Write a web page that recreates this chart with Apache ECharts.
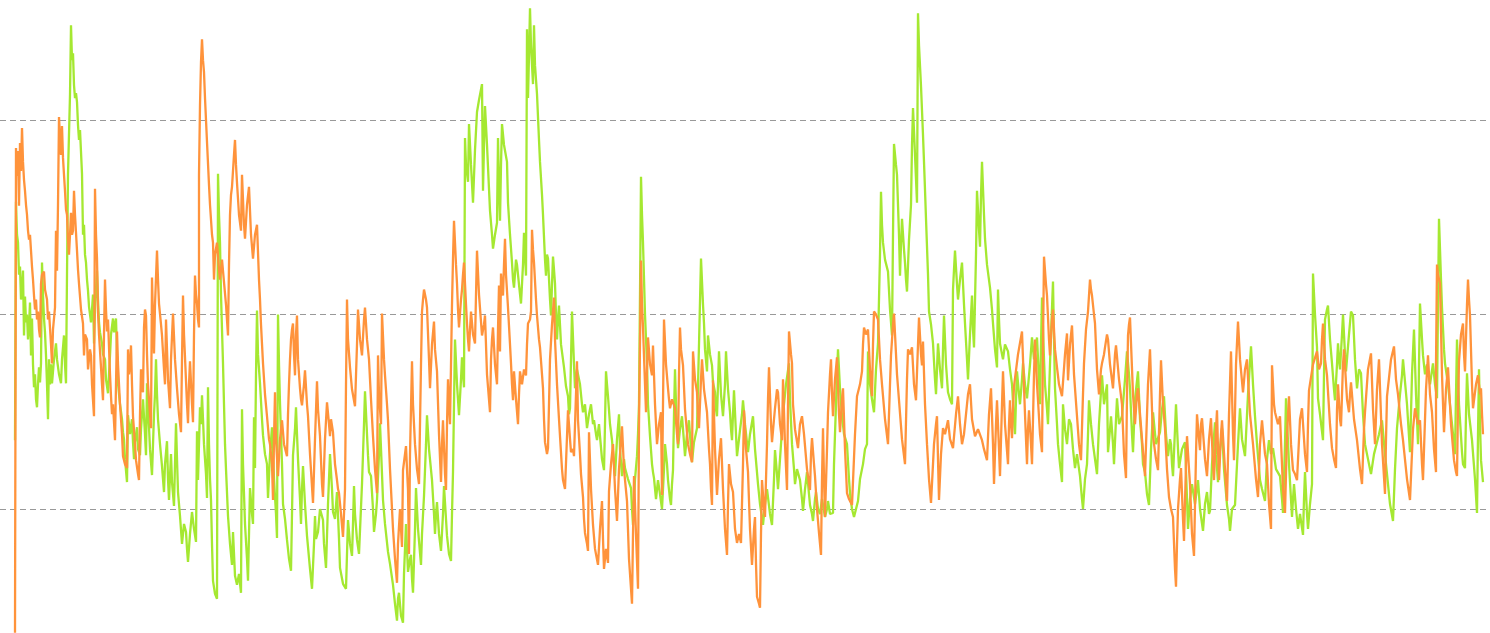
<!DOCTYPE html>
<html><head><meta charset="utf-8">
<style>html,body{margin:0;padding:0;background:#fff}#c{width:1490px;height:633px}</style>
<script src="https://cdn.jsdelivr.net/npm/echarts@6/dist/echarts.min.js"></script></head>
<body><div id="c"></div>
<script>
const greenPoints=[[15,264],[16,503],[17,470],[18,462],[19,430],[20,438],[21,405],[22,414],[23,434],[24,369],[25,408],[26,382],[27,390],[28,365],[29,378],[30,402],[31,349],[32,386],[33,340],[34,317],[35,330],[36,305],[37,297],[38,320],[39,337],[40,322],[41,341],[42,442],[43,410],[44,386],[45,372],[46,349],[47,320],[48,285],[49,345],[50,320],[51,340],[52,321],[54,345],[56,361],[57,345],[59,330],[61,321],[62,345],[64,369],[65,340],[66,321],[67,430],[68,531],[69,571],[70,610],[71,680],[72,645],[73,652],[74,620],[75,607],[76,612],[77,603],[78,580],[79,565],[80,575],[82,531],[83,470],[84,480],[85,450],[86,442],[87,425],[88,414],[89,398],[91,382],[92,395],[93,410],[94,361],[95,395],[96,415],[97,434],[98,405],[99,382],[100,372],[102,361],[103,350],[105,345],[106,325],[108,311],[109,330],[110,349],[111,370],[113,386],[114,372],[116,386],[117,350],[118,321],[120,300],[122,285],[123,272],[124,265],[125,245],[127,222],[128,289],[130,270],[132,285],[133,262],[134,245],[135,262],[137,277],[138,255],[140,249],[141,275],[143,305],[145,270],[146,249],[147,321],[148,295],[149,277],[150,255],[152,229],[154,290],[155,310],[156,345],[157,310],[158,285],[160,260],[162,238],[163,225],[164,212],[165,240],[167,263],[168,225],[169,204],[170,228],[171,250],[172,222],[174,198],[175,240],[176,281],[177,245],[178,212],[180,188],[182,160],[184,180],[186,172],[187,155],[188,142],[190,170],[192,192],[194,175],[196,162],[197,273],[198,224],[199,260],[200,297],[201,280],[202,309],[203,285],[204,260],[206,230],[207,206],[208,317],[209,260],[210,225],[211,204],[212,160],[213,123],[215,110],[217,105],[218,531],[219,490],[220,462],[221,410],[222,375],[223,341],[224,300],[225,260],[226,235],[228,188],[230,160],[232,139],[233,172],[234,150],[235,128],[237,119],[239,130],[241,111],[242,295],[243,240],[244,210],[245,180],[247,145],[248,123],[249,170],[250,216],[252,190],[253,180],[254,287],[255,236],[256,330],[257,394],[258,350],[260,321],[262,285],[263,269],[265,250],[267,240],[268,206],[270,250],[272,277],[274,225],[276,190],[277,166],[278,390],[279,340],[280,301],[282,240],[283,200],[285,185],[287,164],[289,145],[291,133],[292,190],[293,249],[295,275],[296,297],[297,270],[298,245],[300,205],[301,180],[302,215],[303,238],[305,200],[307,168],[310,135],[312,115],[314,160],[315,188],[316,165],[318,172],[320,195],[323,184],[324,160],[326,136],[328,200],[330,250],[332,215],[333,192],[335,185],[337,212],[339,165],[340,136],[343,120],[346,115],[347,150],[348,184],[350,160],[352,148],[353,180],[354,218],[355,190],[357,164],[359,150],[360,148],[362,220],[364,280],[365,313],[367,270],[368,249],[369,232],[371,228],[373,195],[374,172],[376,190],[377,204],[379,250],[380,281],[382,230],[383,204],[385,180],[388,152],[390,140],[393,119],[395,100],[397,83],[398,105],[399,111],[401,88],[403,81],[404,130],[406,180],[407,155],[408,132],[410,145],[411,149],[412,125],[413,111],[415,175],[416,216],[418,175],[421,139],[422,170],[424,208],[426,260],[427,289],[429,255],[432,224],[434,190],[435,170],[436,190],[437,202],[439,170],[441,153],[443,190],[444,218],[446,185],[447,168],[449,150],[451,143],[452,190],[453,232],[454,300],[455,365],[457,320],[459,289],[461,325],[462,347],[463,330],[464,317],[465,567],[466,540],[468,523],[469,581],[471,540],[473,502],[475,555],[477,593],[479,605],[482,621],[483,514],[484,560],[485,599],[487,560],[490,494],[492,470],[493,456],[495,470],[497,482],[498,567],[499,520],[500,484],[501,540],[502,581],[504,560],[507,543],[508,502],[510,470],[512,442],[513,425],[514,417],[516,445],[517,440],[519,420],[521,401],[523,440],[524,472],[525,450],[526,429],[527,676],[528,607],[529,650],[530,697],[531,660],[533,621],[534,680],[535,640],[537,611],[539,565],[540,543],[542,510],[543,490],[545,445],[546,429],[547,450],[548,446],[550,405],[551,389],[552,420],[553,448],[554,435],[555,421],[556,390],[557,365],[558,385],[559,399],[561,360],[564,337],[566,318],[568,308],[569,290],[570,296],[571,345],[572,393],[574,340],[575,316],[577,335],[580,320],[582,300],[583,292],[585,300],[587,276],[589,290],[591,300],[593,280],[594,284],[596,270],[597,264],[599,280],[600,268],[602,245],[604,234],[605,280],[606,333],[607,320],[608,308],[610,280],[612,264],[614,240],[615,228],[617,265],[619,290],[620,255],[622,228],[624,245],[625,236],[628,225],[631,216],[632,195],[633,179],[635,225],[637,248],[638,270],[639,300],[640,410],[641,528],[642,490],[643,462],[645,390],[647,341],[648,300],[650,268],[652,240],[653,232],[654,226],[656,205],[658,224],[660,210],[662,195],[664,235],[665,260],[667,240],[668,224],[670,205],[671,199],[672,220],[673,234],[674,290],[675,335],[676,300],[678,256],[680,275],[682,288],[684,262],[685,248],[687,270],[689,284],[691,255],[692,242],[694,262],[697,276],[699,360],[701,446],[703,400],[704,381],[705,355],[707,333],[708,369],[710,350],[712,339],[713,322],[715,312],[716,295],[717,288],[718,320],[719,353],[721,310],[723,288],[725,320],[726,353],[728,315],[730,292],[731,275],[732,264],[733,290],[734,314],[736,270],[737,248],[739,265],[740,274],[742,290],[743,304],[745,280],[748,252],[750,270],[753,288],[755,255],[758,220],[760,200],[763,179],[765,200],[767,215],[770,190],[772,179],[774,225],[775,254],[777,230],[778,215],[781,260],[784,300],[786,320],[789,341],[790,305],[792,260],[794,235],[795,220],[797,235],[800,224],[802,205],[803,193],[805,215],[807,232],[809,210],[810,199],[812,190],[813,183],[815,205],[816,212],[818,195],[820,190],[822,205],[825,187],[827,195],[828,203],[830,190],[833,191],[834,240],[836,300],[837,330],[838,355],[840,315],[842,288],[844,270],[847,260],[849,225],[850,211],[852,195],[854,187],[856,195],[858,203],[860,225],[863,240],[865,255],[867,260],[868,353],[870,320],[872,305],[874,292],[876,335],[878,361],[880,450],[881,513],[882,480],[883,462],[885,445],[888,433],[890,395],[892,369],[893,470],[894,561],[896,540],[897,530],[899,470],[900,429],[901,460],[902,486],[904,455],[905,442],[906,425],[907,413],[909,465],[911,500],[912,560],[913,597],[915,550],[917,502],[918,692],[919,660],[921,619],[923,570],[924,543],[925,515],[926,486],[928,430],[929,393],[931,380],[933,361],[935,325],[936,310],[937,335],[938,361],[940,335],[942,316],[943,355],[944,389],[946,340],[948,312],[950,305],[952,300],[953,415],[954,435],[955,454],[957,420],[958,405],[960,425],[962,442],[964,400],[965,381],[967,345],[968,325],[970,370],[972,409],[973,375],[974,357],[976,450],[977,514],[979,475],[980,458],[981,510],[982,543],[984,490],[985,466],[987,440],[990,417],[992,395],[993,381],[995,355],[997,337],[998,415],[999,385],[1000,361],[1002,350],[1003,345],[1005,360],[1008,353],[1010,335],[1012,320],[1014,285],[1015,270],[1016,305],[1017,333],[1019,310],[1020,300],[1022,325],[1023,341],[1025,320],[1027,306],[1030,340],[1032,367],[1034,345],[1037,367],[1039,325],[1040,300],[1041,360],[1042,407],[1044,345],[1045,320],[1047,295],[1048,280],[1051,370],[1053,423],[1054,365],[1055,316],[1057,280],[1058,260],[1060,240],[1062,222],[1063,300],[1065,275],[1067,260],[1069,285],[1071,280],[1073,255],[1075,236],[1077,250],[1080,228],[1082,205],[1083,195],[1085,225],[1087,240],[1088,270],[1089,304],[1091,280],[1093,260],[1095,245],[1097,230],[1099,280],[1102,329],[1104,300],[1107,320],[1108,252],[1110,275],[1111,288],[1113,260],[1114,240],[1116,285],[1117,306],[1119,280],[1122,288],[1125,325],[1127,353],[1129,330],[1130,316],[1132,270],[1133,252],[1135,305],[1138,333],[1140,285],[1142,260],[1143,240],[1145,232],[1147,210],[1149,199],[1151,255],[1153,292],[1156,260],[1160,272],[1162,295],[1164,308],[1166,270],[1168,248],[1170,265],[1171,260],[1172,240],[1173,228],[1175,275],[1176,300],[1178,255],[1179,236],[1182,255],[1185,262],[1187,205],[1188,175],[1190,205],[1192,220],[1195,200],[1198,224],[1200,195],[1203,173],[1205,200],[1207,212],[1209,190],[1210,193],[1212,240],[1215,282],[1216,250],[1218,222],[1220,255],[1222,276],[1224,235],[1227,199],[1229,185],[1230,173],[1232,195],[1235,199],[1238,260],[1240,296],[1242,265],[1245,248],[1248,310],[1251,358],[1253,320],[1255,288],[1257,260],[1260,224],[1262,215],[1265,203],[1267,245],[1269,264],[1271,250],[1273,256],[1276,235],[1280,228],[1282,205],[1283,191],[1285,260],[1286,306],[1289,240],[1292,187],[1293,205],[1294,220],[1296,195],[1298,175],[1300,190],[1303,169],[1304,205],[1305,232],[1307,190],[1308,175],[1310,200],[1312,220],[1313,431],[1315,390],[1317,357],[1318,306],[1320,290],[1323,264],[1324,330],[1325,385],[1327,395],[1328,399],[1330,365],[1332,341],[1334,315],[1335,304],[1337,340],[1338,361],[1339,345],[1340,335],[1342,370],[1343,390],[1345,350],[1346,333],[1349,370],[1351,393],[1353,389],[1355,345],[1357,316],[1359,335],[1361,331],[1363,290],[1365,260],[1368,245],[1371,230],[1374,250],[1376,248],[1379,270],[1382,284],[1385,250],[1388,220],[1390,200],[1393,183],[1395,235],[1397,276],[1400,310],[1402,329],[1403,345],[1405,343],[1407,300],[1410,252],[1412,330],[1414,375],[1416,310],[1418,260],[1419,340],[1420,401],[1422,365],[1423,349],[1425,330],[1427,340],[1430,320],[1433,341],[1435,320],[1437,306],[1438,400],[1439,486],[1441,425],[1442,397],[1444,355],[1445,341],[1448,320],[1450,300],[1453,270],[1455,250],[1456,310],[1457,365],[1459,300],[1462,252],[1463,240],[1465,236],[1466,290],[1467,331],[1469,290],[1472,264],[1475,225],[1477,191],[1478,270],[1479,335],[1480,280],[1481,244],[1483,222]];
const orangePoints=[[15,71],[16,557],[17,529],[18,554],[19,499],[20,562],[21,534],[22,577],[23,543],[24,525],[25,514],[26,500],[27,490],[28,474],[29,465],[30,470],[31,454],[32,438],[33,425],[34,409],[35,395],[36,405],[37,385],[38,393],[39,375],[40,367],[41,421],[42,430],[44,433],[45,415],[47,405],[48,385],[49,393],[51,360],[52,341],[53,375],[55,397],[56,474],[57,434],[58,500],[59,588],[60,567],[61,550],[62,579],[63,547],[64,530],[65,514],[66,495],[67,490],[68,465],[69,450],[70,470],[71,492],[72,470],[73,474],[74,514],[75,490],[77,454],[78,435],[79,421],[81,395],[83,381],[84,349],[85,370],[87,365],[88,335],[90,355],[91,349],[92,320],[94,288],[95,516],[96,470],[97,446],[98,393],[99,370],[101,337],[102,320],[103,304],[104,370],[105,425],[106,395],[107,373],[108,385],[110,330],[111,308],[112,290],[113,300],[115,264],[116,320],[117,373],[118,340],[120,300],[122,270],[123,248],[125,240],[127,236],[128,355],[129,330],[130,339],[131,359],[132,320],[133,288],[135,260],[136,244],[138,230],[139,224],[140,290],[141,335],[142,320],[143,312],[144,377],[145,395],[146,389],[147,350],[148,320],[150,290],[151,276],[152,427],[153,385],[154,351],[155,400],[157,454],[158,425],[159,401],[161,380],[162,369],[164,335],[165,320],[166,385],[167,355],[168,325],[170,296],[171,345],[173,391],[174,391],[175,345],[177,316],[179,290],[181,272],[182,345],[183,409],[184,370],[185,347],[187,300],[188,281],[189,320],[190,343],[192,300],[193,282],[194,370],[195,429],[196,410],[197,401],[198,385],[199,377],[199,530],[200,600],[201,643],[202,666],[203,645],[204,633],[205,607],[206,585],[207,563],[209,520],[210,500],[212,470],[213,462],[214,425],[215,450],[217,462],[219,435],[220,425],[222,445],[224,444],[226,400],[228,369],[229,440],[230,490],[231,510],[232,518],[234,550],[235,565],[236,540],[237,522],[239,490],[241,474],[242,530],[244,480],[245,466],[247,500],[249,518],[251,470],[253,446],[255,470],[257,480],[259,425],[260,405],[261,380],[263,341],[265,310],[267,288],[269,265],[270,260],[272,240],[273,204],[274,265],[275,312],[276,265],[278,228],[280,265],[282,284],[284,260],[287,248],[288,290],[289,320],[290,345],[291,365],[292,375],[293,381],[294,350],[295,329],[296,370],[297,389],[298,345],[300,316],[301,305],[302,299],[304,320],[305,334],[307,300],[308,288],[310,250],[313,201],[315,265],[317,323],[318,295],[320,268],[322,220],[323,207],[325,265],[327,302],[329,280],[330,268],[331,285],[333,272],[335,240],[337,224],[338,215],[339,211],[341,190],[343,167],[344,190],[345,215],[346,320],[347,405],[348,365],[350,337],[352,315],[355,298],[357,360],[358,395],[360,365],[362,349],[364,385],[365,397],[367,365],[369,345],[371,305],[373,268],[375,235],[377,211],[378,349],[379,310],[381,280],[382,391],[384,345],[385,329],[387,300],[388,284],[390,235],[393,175],[395,145],[397,121],[398,160],[400,195],[401,175],[402,157],[403,234],[405,250],[406,258],[407,235],[408,214],[409,150],[410,250],[412,343],[413,300],[415,260],[417,235],[419,220],[421,340],[422,393],[423,405],[424,415],[426,405],[427,397],[429,345],[430,316],[432,360],[434,383],[435,355],[437,333],[439,270],[441,222],[442,260],[443,284],[445,230],[446,214],[447,280],[448,325],[449,300],[450,280],[452,400],[453,446],[454,484],[456,440],[457,421],[458,395],[459,377],[461,405],[462,415],[463,430],[464,442],[466,400],[467,381],[468,365],[469,353],[470,375],[471,393],[473,370],[475,361],[476,410],[477,454],[479,410],[482,369],[484,380],[485,389],[487,330],[490,292],[491,345],[492,365],[493,377],[495,340],[497,320],[498,375],[499,419],[500,353],[501,431],[502,415],[503,409],[504,440],[505,466],[506,430],[508,397],[510,360],[511,341],[512,320],[513,304],[514,333],[516,305],[518,280],[519,310],[520,333],[522,320],[524,335],[526,329],[527,360],[528,381],[530,385],[531,393],[532,475],[533,455],[534,442],[536,405],[537,389],[539,365],[540,357],[542,330],[543,316],[544,285],[545,262],[547,250],[548,256],[549,300],[550,345],[552,380],[554,407],[555,365],[557,320],[559,285],[560,268],[562,235],[563,224],[565,215],[567,213],[568,294],[570,265],[571,252],[573,255],[574,248],[576,310],[577,343],[578,284],[580,250],[581,230],[583,207],[584,185],[585,171],[587,160],[588,153],[589,272],[591,215],[593,179],[595,155],[598,139],[600,175],[602,203],[603,165],[604,135],[606,155],[608,141],[609,213],[611,240],[613,260],[615,215],[617,183],[619,235],[622,278],[624,235],[627,203],[629,145],[632,100],[633,170],[634,228],[636,170],[638,115],[639,280],[641,444],[642,400],[643,377],[645,320],[646,292],[647,335],[648,367],[650,340],[652,329],[653,359],[655,300],[657,260],[659,280],[661,292],[662,209],[663,300],[664,385],[666,340],[668,316],[669,305],[670,296],[672,305],[675,296],[677,270],[678,260],[679,330],[680,377],[681,355],[683,339],[685,295],[688,260],[690,250],[692,242],[693,353],[695,325],[697,312],[698,290],[699,276],[701,325],[702,345],[704,315],[707,292],[709,255],[710,240],[711,215],[712,199],[713,324],[715,255],[717,209],[719,245],[721,266],[723,215],[725,175],[727,149],[728,200],[729,240],[731,220],[733,212],[735,175],[737,161],[739,170],[741,161],[743,240],[744,294],[746,255],[748,232],[750,175],[752,139],[754,175],[755,187],[756,140],[757,107],[759,100],[760,96],[761,170],[762,224],[764,195],[765,187],[766,225],[767,260],[768,305],[769,337],[771,280],[772,262],[774,285],[775,296],[777,315],[778,312],[780,280],[782,264],[783,325],[785,260],[787,214],[788,300],[789,373],[791,350],[792,341],[793,300],[795,275],[798,256],[800,280],[802,288],[804,270],[805,268],[807,235],[810,214],[811,250],[812,266],[814,240],[815,228],[817,195],[819,171],[820,160],[821,149],[822,225],[823,276],[824,225],[825,187],[827,255],[828,292],[830,330],[831,345],[832,310],[833,288],[835,325],[837,347],[839,290],[840,272],[842,305],[843,316],[845,255],[847,211],[849,205],[852,199],[855,270],[857,308],[860,320],[862,333],[863,360],[864,377],[866,370],[868,375],[870,335],[872,308],[873,360],[874,393],[876,390],[878,385],[880,345],[882,320],[885,285],[888,260],[890,320],[891,349],[893,380],[894,391],[897,330],[899,304],[902,265],[905,240],[907,325],[908,355],[910,350],[912,357],[914,320],[916,304],[918,360],[919,387],[921,350],[922,339],[923,363],[925,300],[927,260],[929,225],[931,201],[933,240],[934,260],[936,280],[937,288],[938,245],[939,204],[941,250],[943,276],[945,270],[948,284],[950,265],[953,256],[956,290],[958,308],[960,280],[962,260],[964,270],[965,280],[968,310],[970,320],[972,285],[975,268],[978,275],[982,264],[984,255],[987,244],[989,290],[991,316],[993,260],[994,220],[996,280],[997,304],[999,255],[1000,228],[1002,300],[1003,333],[1005,280],[1008,240],[1009,280],[1010,304],[1011,280],[1012,266],[1013,295],[1014,318],[1018,350],[1022,373],[1025,290],[1027,240],[1028,275],[1029,294],[1031,260],[1032,240],[1034,330],[1035,365],[1037,320],[1038,304],[1040,270],[1042,252],[1043,360],[1044,448],[1046,420],[1047,409],[1049,365],[1050,349],[1052,385],[1053,395],[1055,355],[1057,337],[1059,320],[1062,308],[1065,350],[1067,371],[1068,324],[1070,360],[1072,379],[1074,330],[1077,288],[1079,260],[1081,244],[1083,310],[1084,341],[1086,375],[1088,393],[1090,425],[1091,415],[1092,409],[1094,390],[1095,381],[1097,335],[1099,310],[1101,335],[1102,341],[1104,350],[1105,357],[1107,370],[1108,365],[1110,340],[1113,316],[1115,350],[1116,359],[1119,325],[1122,300],[1124,250],[1126,226],[1127,310],[1128,369],[1129,380],[1130,387],[1133,310],[1135,280],[1137,310],[1138,316],[1142,265],[1145,228],[1148,320],[1150,355],[1152,295],[1153,268],[1156,245],[1158,234],[1160,310],[1161,344],[1163,300],[1165,276],[1167,235],[1169,207],[1171,195],[1173,187],[1175,135],[1176,117],[1177,160],[1178,195],[1180,225],[1181,236],[1183,185],[1184,163],[1186,240],[1187,268],[1189,235],[1190,220],[1192,170],[1194,148],[1196,250],[1197,290],[1199,265],[1200,254],[1201,280],[1202,286],[1205,245],[1207,228],[1209,265],[1211,286],[1213,240],[1214,224],[1216,275],[1217,294],[1218,255],[1219,224],[1221,270],[1222,284],[1225,235],[1227,203],[1229,290],[1231,353],[1233,270],[1234,244],[1236,340],[1238,383],[1240,345],[1243,312],[1245,335],[1247,345],[1250,290],[1253,260],[1256,225],[1258,207],[1260,260],[1262,284],[1265,250],[1267,240],[1269,200],[1271,175],[1272,339],[1274,300],[1275,292],[1278,280],[1280,288],[1283,215],[1285,191],[1287,270],[1289,308],[1291,260],[1293,234],[1295,230],[1297,224],[1300,285],[1302,296],[1305,250],[1307,232],[1308,280],[1309,314],[1313,340],[1317,353],[1319,335],[1321,341],[1322,365],[1323,381],[1325,345],[1327,329],[1330,280],[1332,256],[1334,245],[1336,236],[1337,295],[1338,320],[1340,285],[1341,278],[1343,340],[1344,355],[1347,305],[1349,292],[1350,310],[1351,322],[1354,285],[1357,264],[1360,235],[1362,220],[1364,275],[1365,292],[1368,335],[1371,351],[1373,295],[1375,260],[1377,315],[1379,345],[1382,260],[1385,210],[1386,265],[1387,308],[1391,345],[1394,358],[1396,325],[1398,310],[1401,280],[1403,264],[1407,225],[1410,204],[1413,275],[1415,296],[1418,280],[1420,284],[1422,240],[1423,224],[1426,315],[1428,349],[1430,310],[1432,292],[1434,255],[1436,232],[1436,340],[1437,440],[1438,430],[1440,421],[1442,330],[1444,272],[1446,315],[1448,337],[1451,280],[1454,244],[1456,232],[1457,228],[1458,300],[1459,343],[1461,370],[1463,381],[1464,350],[1465,333],[1467,400],[1468,425],[1469,405],[1470,389],[1472,320],[1473,296],[1476,320],[1478,329],[1480,310],[1481,316],[1482,290],[1483,270]];
const gridStep=195;
echarts.init(document.getElementById('c'),null,{renderer:'canvas'}).setOption({
 animation:false,
 grid:{left:0,width:1487,top:-74.5,height:778,outerBoundsMode:'none'},
 xAxis:{type:'value',min:0,max:1487,show:false},
 yAxis:{type:'value',min:0,max:780,interval:gridStep,axisLabel:{show:false},axisLine:{show:false},axisTick:{show:false},
  splitLine:{show:true,lineStyle:{color:'#999999',width:1,type:[6,4]}}},
 series:[
  {type:'line',data:greenPoints,showSymbol:false,lineStyle:{color:'#A5E831',width:2.3},z:2},
  {type:'line',data:orangePoints,showSymbol:false,lineStyle:{color:'#FF933B',width:2.3},z:3}
 ]
});
</script></body></html>
